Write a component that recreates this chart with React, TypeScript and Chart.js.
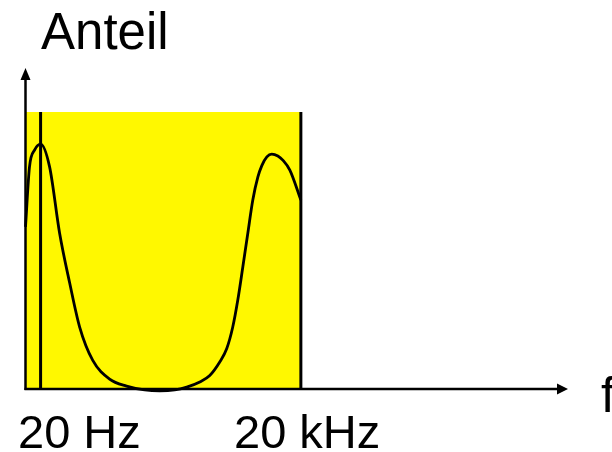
import React, { useEffect, useRef } from "react";
import { Chart, registerables } from "chart.js";

Chart.register(...registerables);

// frequency (Hz, log axis) and relative share ("Anteil") of the curve
const freqHz = [13.4, 14.9, 17.1, 20, 25.4, 33.1, 43.3, 56.4, 79.6, 125, 196, 317, 472, 703, 968, 1368, 1782, 2323, 2799, 3281, 3750, 4285, 4898, 5585, 6383, 7096, 8110, 9247, 10864, 12388, 14928, 20000];
const share = [50.5, 69.2, 74.5, 76.3, 69.2, 48.6, 33.0, 19.3, 9.0, 3.1, 0.9, -0.3, -0.6, -0.3, 0.6, 2.2, 4.2, 8.4, 12.6, 19.3, 27.7, 38.0, 48.6, 58.9, 66.0, 69.6, 72.3, 73.2, 72.6, 71.3, 68.2, 58.9];

// audible band
const bandFrom = 13.4;
const bandLow = 20;
const bandHigh = 20000;
const bandTop = 86.3;
const axisMin = 13.4;
const axisMax = 24000000;

const yTitle = "Anteil";
const xTitle = "f";
const lowLabel = "20 Hz";
const highLabel = "20 kHz";

const FONT = '"Liberation Sans", Arial, Helvetica, sans-serif';

const axesPlugin = {
  id: "axesArrows",
  afterDatasetsDraw(chart: any) {
    const { ctx, chartArea } = chart;
    const { left, right, top, bottom } = chartArea;
    ctx.save();
    ctx.strokeStyle = "#000";
    ctx.fillStyle = "#000";
    ctx.lineWidth = 2.5;
    // y axis
    ctx.beginPath();
    ctx.moveTo(left, bottom + 1);
    ctx.lineTo(left, top + 8);
    ctx.stroke();
    ctx.beginPath();
    ctx.moveTo(left, top);
    ctx.lineTo(left - 5, top + 12);
    ctx.lineTo(left + 5, top + 12);
    ctx.closePath();
    ctx.fill();
    // x axis
    ctx.beginPath();
    ctx.moveTo(left - 1, bottom);
    ctx.lineTo(right - 8, bottom);
    ctx.stroke();
    ctx.beginPath();
    ctx.moveTo(right, bottom);
    ctx.lineTo(right - 11, bottom - 5.5);
    ctx.lineTo(right - 11, bottom + 5.5);
    ctx.closePath();
    ctx.fill();
    // texts
    ctx.textBaseline = "alphabetic";
    ctx.textAlign = "left";
    ctx.font = `51px ${FONT}`;
    ctx.fillText(yTitle, 41, 49);
    ctx.font = `50px ${FONT}`;
    ctx.fillText(xTitle, 601, 412);
    ctx.font = `47px ${FONT}`;
    ctx.fillText(lowLabel, 18, 448);
    ctx.fillText(highLabel, 234, 448);
    ctx.restore();
  },
};

export default function App() {
  const ref = useRef<HTMLCanvasElement>(null);
  useEffect(() => {
    if (!ref.current) return;
    const chart = new Chart(ref.current, {
      type: "line",
      data: {
        datasets: [
          {
            data: [
              { x: bandFrom, y: bandTop },
              { x: bandHigh, y: bandTop },
            ],
            backgroundColor: "#FFF800",
            borderWidth: 0,
            pointRadius: 0,
            fill: "origin",
            order: 3,
          },
          {
            data: [
              { x: bandLow, y: 0 },
              { x: bandLow, y: bandTop },
            ],
            borderColor: "#000",
            borderWidth: 3,
            pointRadius: 0,
            fill: false,
            order: 2,
          },
          {
            data: [
              { x: bandHigh, y: 0 },
              { x: bandHigh, y: bandTop },
            ],
            borderColor: "#000",
            borderWidth: 3,
            pointRadius: 0,
            fill: false,
            order: 2,
          },
          {
            data: freqHz.map((f, i) => ({ x: f, y: share[i] })),
            borderColor: "#000",
            borderWidth: 2.8,
            pointRadius: 0,
            cubicInterpolationMode: "monotone",
            fill: false,
            clip: false as any,
            order: 1,
          },
        ],
      },
      options: {
        responsive: false,
        animation: false,
        devicePixelRatio: 1,
        layout: { padding: { left: 25.5, top: 68, right: 44, bottom: 63 } },
        plugins: { legend: { display: false }, tooltip: { enabled: false } },
        scales: {
          x: { type: "logarithmic", min: axisMin, max: axisMax, display: false },
          y: { type: "linear", min: 0, max: 100, display: false },
        },
      },
      plugins: [axesPlugin],
    });
    return () => chart.destroy();
  }, []);
  return (
    <div style={{ position: "fixed", left: 0, top: 0, width: 612, height: 452, background: "#fff" }}>
      <canvas ref={ref} width={612} height={452} />
    </div>
  );
}
